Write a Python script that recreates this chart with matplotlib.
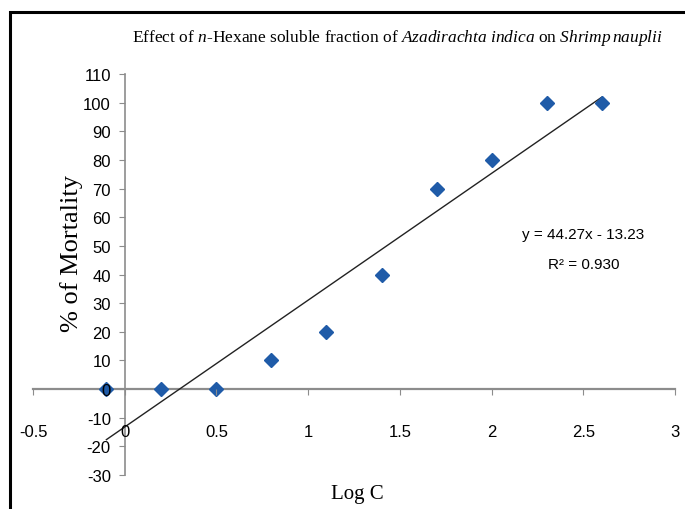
import matplotlib.pyplot as plt
from matplotlib.patches import Rectangle

# data
log_c = [-0.1, 0.2, 0.5, 0.8, 1.1, 1.4, 1.7, 2.0, 2.3, 2.6]
mortality = [0, 0, 0, 10, 20, 40, 70, 80, 100, 100]
slope = 44.27
intercept = -13.23
r2 = 0.930

x_ticks = [-0.5, 0, 0.5, 1, 1.5, 2, 2.5, 3]
x_tick_labels = ["-0.5", "0", "0.5", "1", "1.5", "2", "2.5", "3"]
y_ticks = list(range(-30, 111, 10))

plt.rcParams["axes.unicode_minus"] = False
plt.rcParams["mathtext.fontset"] = "custom"
plt.rcParams["mathtext.rm"] = "Liberation Serif"
plt.rcParams["mathtext.it"] = "Liberation Serif:italic"

fig = plt.figure(figsize=(6.85, 5.10), dpi=100)
ax = fig.add_axes([33 / 685, 34 / 510, 642 / 685, 401 / 510])
ax.set_axisbelow(False)   # tick labels over the markers, like the original

# outer black frame (runs off the right and bottom edges)
fig.patches.append(Rectangle((10 / 685, -0.2), 1.5, 1.2 - 13 / 510,
                             transform=fig.transFigure, fill=False,
                             edgecolor="black", linewidth=2.2, clip_on=False))

ax.plot(log_c, mortality, linestyle="none", marker="D", markersize=7.5,
        color="#1F5BA8", zorder=2.2)

x_fit = [log_c[0], log_c[-1]]
y_fit = [slope * v + intercept for v in x_fit]
ax.plot(x_fit, y_fit, color="#222222", linewidth=1.0, zorder=2.1)

ax.set_xlim(-0.5, 3)
ax.set_ylim(-30, 110)

axis_color = "#8c8c8c"
ax.spines["left"].set_position(("data", 0))
ax.spines["bottom"].set_position(("data", 0))
ax.spines["top"].set_visible(False)
ax.spines["right"].set_visible(False)
ax.spines["left"].set_color(axis_color)
ax.spines["bottom"].set_color(axis_color)
ax.spines["left"].set_linewidth(1.2)
ax.spines["bottom"].set_linewidth(1.6)
ax.spines["left"].set_zorder(2.0)
ax.spines["bottom"].set_zorder(2.0)

ax.set_xticks(x_ticks)
ax.set_xticklabels(x_tick_labels)
ax.set_yticks(y_ticks)
tick_font = "Liberation Sans"
for lab in ax.get_xticklabels() + ax.get_yticklabels():
    lab.set_fontfamily(tick_font)
    lab.set_fontsize(12)
ax.tick_params(axis="x", direction="out", length=4, color=axis_color, pad=21)
ax.tick_params(axis="y", direction="out", length=4, color=axis_color, pad=6)

fig.text(397 / 685, 1 - 38 / 510,
         r"Effect of $\mathit{n}$-Hexane soluble fraction of "
         r"$\mathit{Azadirachta\ indica}$ on $\mathit{Shrimp\,nauplii}$",
         ha="center", va="center", fontsize=12.5, family="Liberation Serif")

fig.text(72 / 685, 1 - 253 / 510, "% of Mortality", rotation=90,
         ha="center", va="center", fontsize=19, family="Liberation Serif")
fig.text(357 / 685, 1 - 495 / 510, "Log C", ha="center", va="center",
         fontsize=15, family="Liberation Serif")

ax.text(2.5, 54, "y = %.2fx - %.2f" % (slope, -intercept), ha="center",
        va="center", fontsize=11, family=tick_font)
ax.text(2.5, 43.5, "R\u00b2 = %.3f" % r2, ha="center", va="center",
        fontsize=11, family=tick_font)

plt.savefig("out.png", dpi=100)
plt.close()
